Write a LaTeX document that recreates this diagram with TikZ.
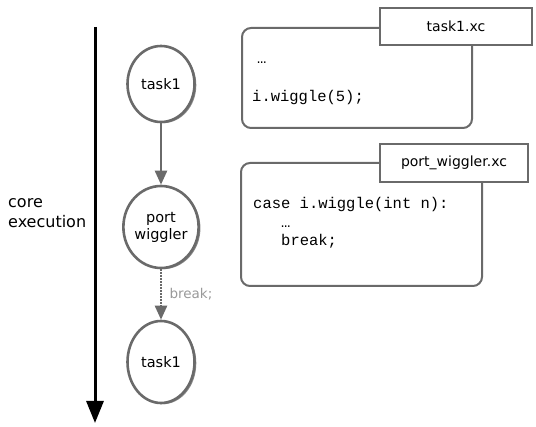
\documentclass[tikz,border=0pt]{standalone}
\usepackage{fontspec}
\setmainfont{DejaVu Sans}
\newfontfamily\codefont{Liberation Mono}
\usetikzlibrary{arrows.meta,shapes.geometric,shadows}
\definecolor{edge}{HTML}{6A6A6A}
\definecolor{shade}{HTML}{8A8A8A}
\definecolor{lbl}{HTML}{999999}
\begin{document}
\begin{tikzpicture}[x=1pt,y=-1pt,
  proc/.style={ellipse, draw=edge, fill=white, line width=2.6pt, inner sep=0pt,
    minimum width=67pt, align=center,
    font=\fontsize{14.5}{17}\selectfont,
    drop shadow={shadow xshift=1.8pt, shadow yshift=-1.2pt, fill=shade, opacity=1}},
  codebox/.style={draw=edge, fill=white, line width=2pt, rounded corners=9pt, anchor=north west, inner sep=0pt},
  titlebox/.style={draw=edge, fill=white, line width=2pt, inner sep=0pt, font=\fontsize{14}{17}\selectfont},
  code/.style={anchor=base west, inner sep=0pt, font=\codefont\fontsize{15.5}{18}\selectfont},
  flow/.style={draw=edge, line width=2.4pt, -{Triangle[length=14pt,width=12pt]}},
  breakflow/.style={flow, dash pattern=on 1.6pt off 1.4pt},
  timeline/.style={draw=black, line width=3pt, -{Triangle[length=22pt,width=17pt]}},
  side/.style={anchor=west, inner sep=0pt, align=left, font=\fontsize{16}{20}\selectfont}
]
\useasboundingbox (0,0) rectangle (536,427);

% timeline
\coordinate (tstart) at (95,27);
\coordinate (tend) at (95,423);
\draw[timeline] (tstart) -- (tend);
\node[side] (core) at (8,213) {core\\execution};

% processes
\node[proc, minimum height=76pt] (t1) at (161,84) {task1};
\node[proc, minimum height=82pt] (pw) at (161,227) {port\\wiggler};
\node[proc, minimum height=82pt] (t2) at (161,362) {task1};

\draw[flow] (t1) -- (pw);
\draw[breakflow] (pw) -- node[right, xshift=4pt, text=lbl, font=\fontsize{13.5}{15}\selectfont] (brk) {break;} (t2);

% code box 1
\node[codebox, minimum width=230pt, minimum height=100pt] (box1) at (241,27) {};
\node[titlebox, minimum width=152pt, minimum height=37pt] (title1) at (456,26.5) {task1.xc};
\node[code] (c1a) at (257,64) {…};
\node[code] (c1b) at (252,102) {i.wiggle(5);};

% code box 2
\node[codebox, minimum width=241pt, minimum height=123pt] (box2) at (240,162) {};
\node[titlebox, minimum width=148pt, minimum height=38pt] (title2) at (454,163) {port\_wiggler.xc};
\node[code] (c2a) at (253,209) {case i.wiggle(int n):};
\node[code] (c2b) at (281,228) {…};
\node[code] (c2c) at (281,246) {break;};
\end{tikzpicture}
\end{document}
